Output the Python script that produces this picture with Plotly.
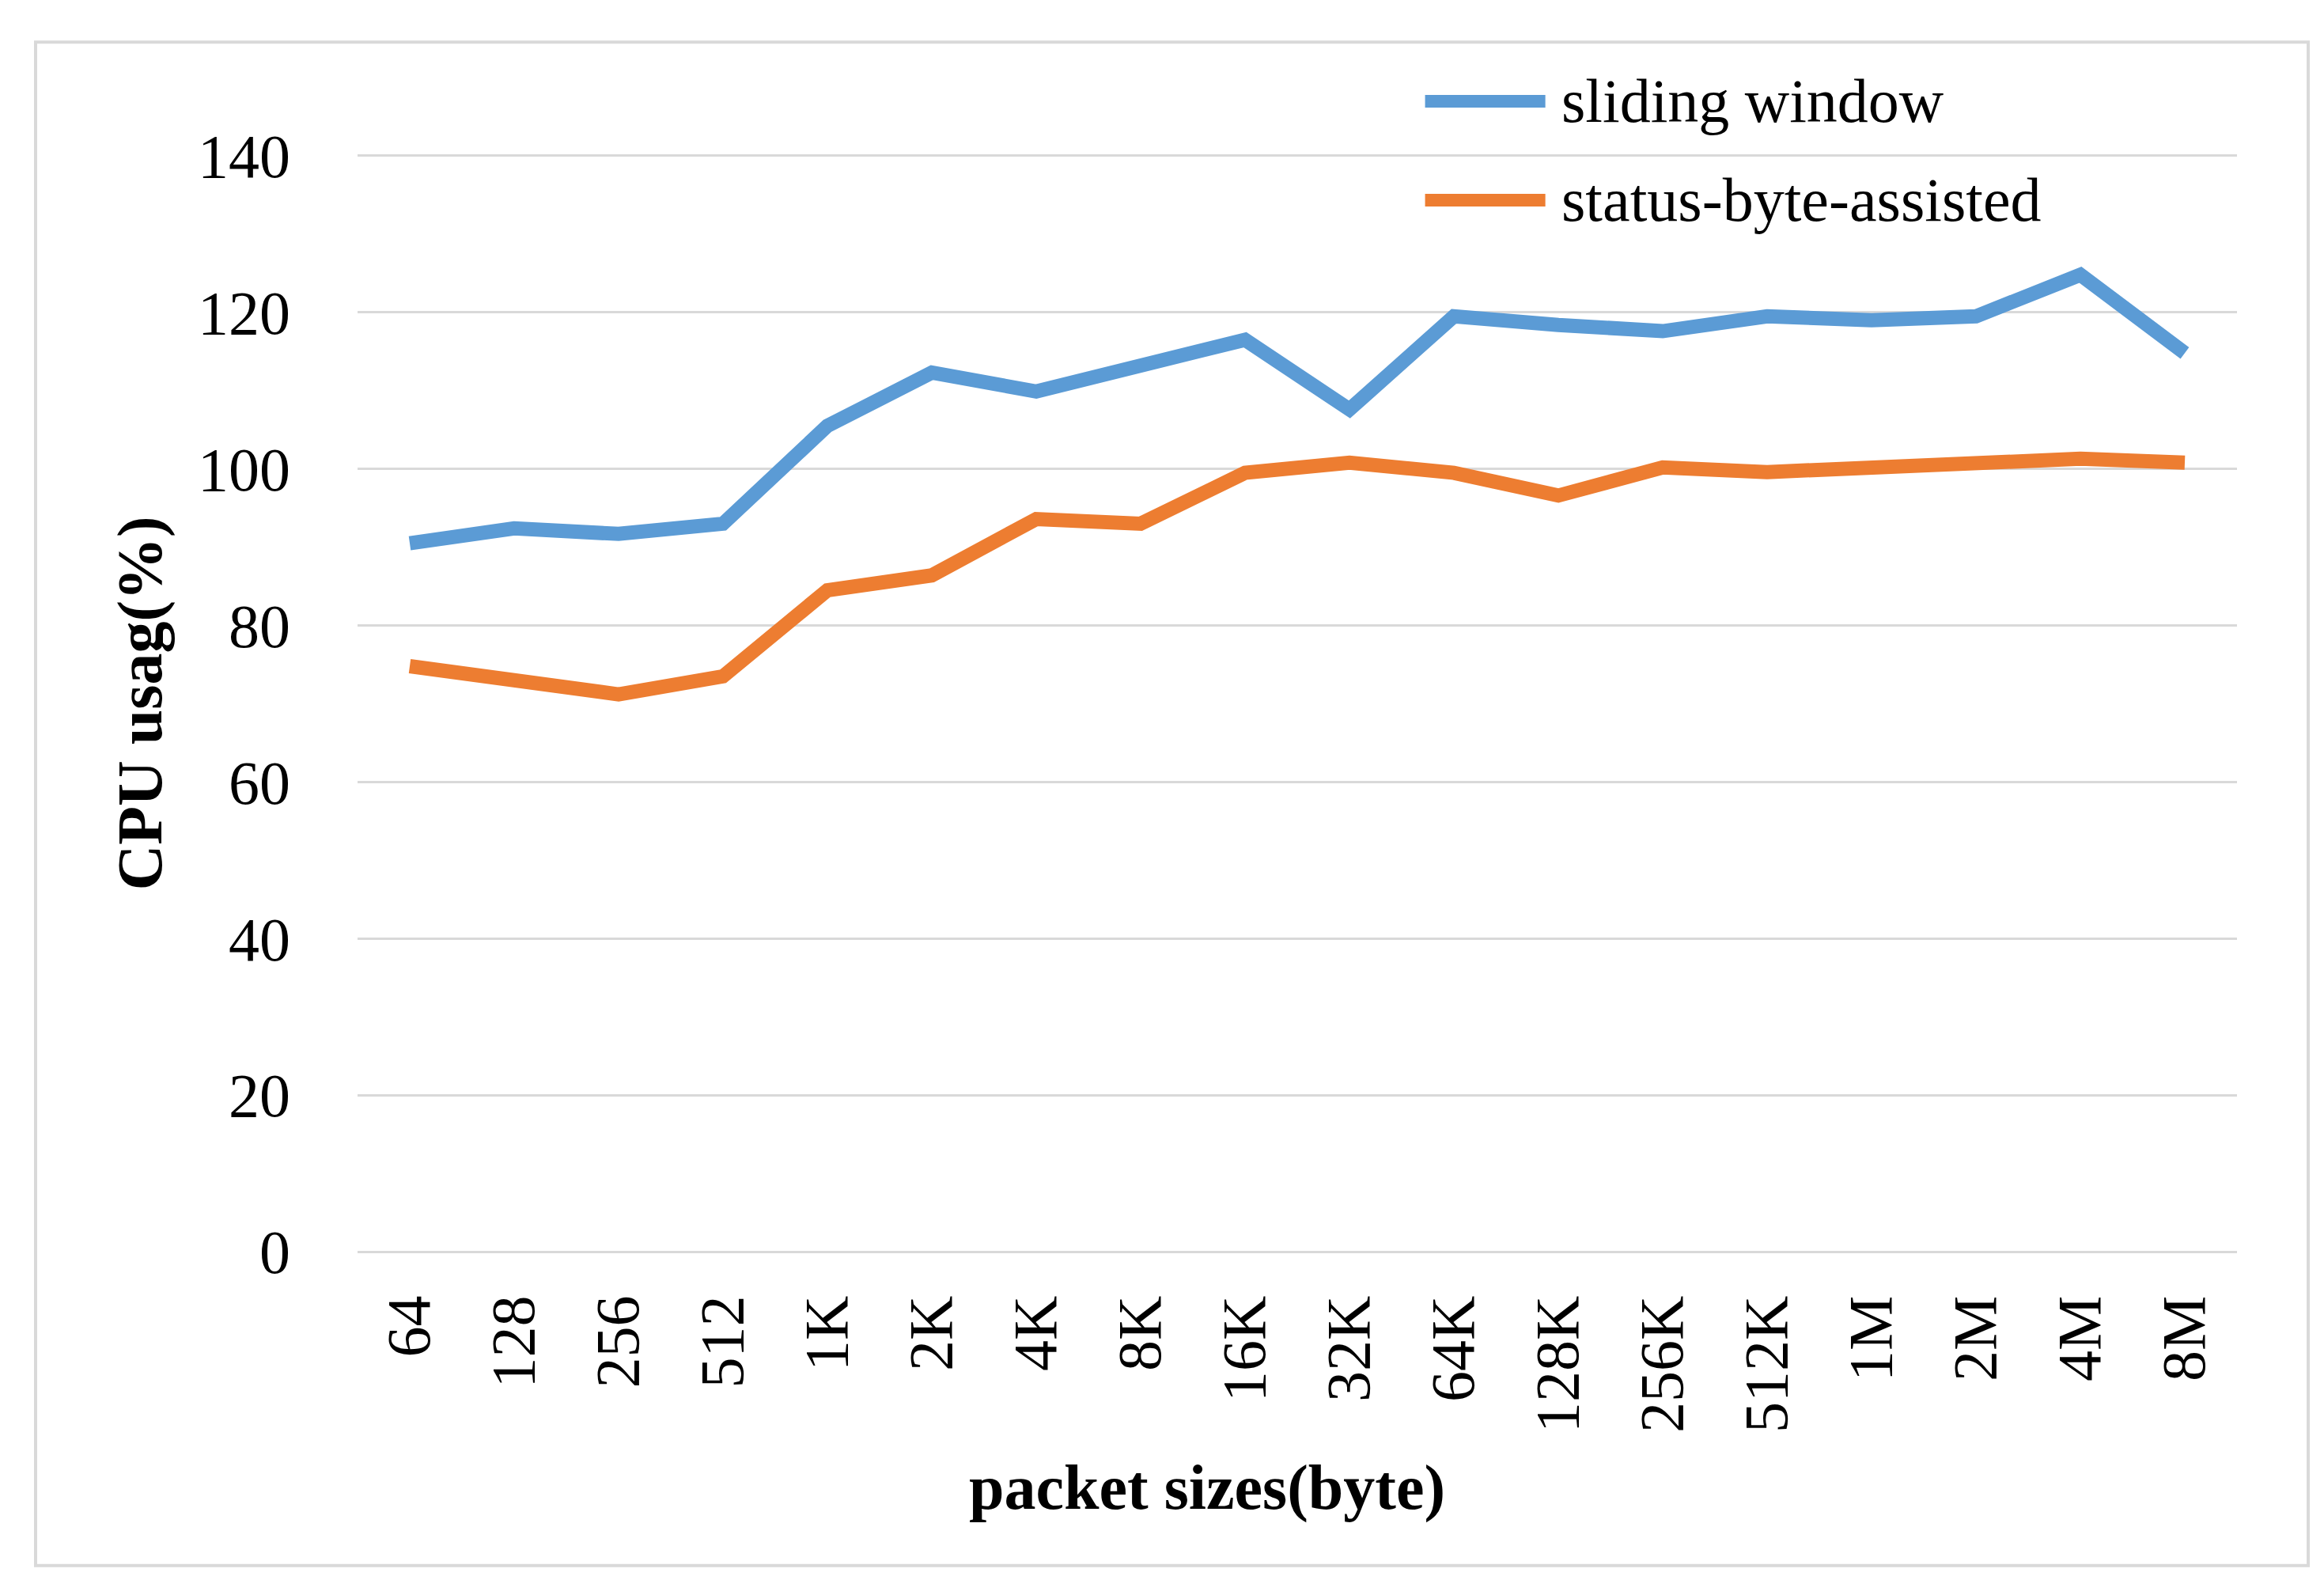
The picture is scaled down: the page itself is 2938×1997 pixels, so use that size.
import plotly.graph_objects as go

categories = ["64", "128", "256", "512", "1K", "2K", "4K", "8K", "16K", "32K",
              "64K", "128K", "256K", "512K", "1M", "2M", "4M", "8M"]
sliding_window = [90.5, 92.4, 91.7, 93.0, 105.5, 112.3, 109.9, 113.3, 116.5, 107.6,
                  119.5, 118.4, 117.6, 119.5, 119.0, 119.5, 124.8, 114.8]
status_byte_assisted = [74.8, 72.9, 71.2, 73.5, 84.5, 86.4, 93.6, 93.0, 99.5, 100.8,
                        99.5, 96.6, 100.2, 99.6, 100.2, 100.8, 101.3, 100.8]
y_ticks = [0, 20, 40, 60, 80, 100, 120, 140]
series_names = ["sliding window", "status-byte-assisted"]
series_colors = ["#5B9BD5", "#ED7D31"]

FONT = "Palatino Linotype, Book Antiqua, Palatino, Liberation Serif, serif"

fig = go.Figure()
for name, vals, col in zip(series_names, [sliding_window, status_byte_assisted], series_colors):
    fig.add_trace(go.Scatter(x=categories, y=vals, mode="lines", name=name,
                             line=dict(color=col, width=18), showlegend=False))

# legend drawn as thick sample lines + text (Plotly caps legend line width)
legend_y = [1.0459, 0.9563]
shapes = [dict(type="rect", xref="paper", yref="paper",
               x0=-0.1713, x1=1.0379, y0=-0.2809, y1=1.0995,
               line=dict(color="#D9D9D9", width=4), layer="below")]
annotations = []
for name, col, ly in zip(series_names, series_colors, legend_y):
    shapes.append(dict(type="line", xref="paper", yref="paper",
                       x0=0.5680, x1=0.6320, y0=ly, y1=ly,
                       line=dict(color=col, width=16)))
    annotations.append(dict(text=name, xref="paper", yref="paper",
                            x=0.6397, y=ly, xanchor="left", yanchor="middle",
                            showarrow=False,
                            font=dict(family=FONT, size=78, color="black")))

annotations += [
    dict(text="<b>packet sizes(byte)</b>", xref="paper", yref="paper",
         x=0.452, y=-0.2105, xanchor="center", yanchor="middle",
         showarrow=False, font=dict(family=FONT, size=80, color="black")),
    dict(text="<b>CPU usag(%)</b>", xref="paper", yref="paper",
         x=-0.1157, y=0.5, xanchor="center", yanchor="middle",
         textangle=-90, showarrow=False,
         font=dict(family=FONT, size=80, color="black")),
]

fig.update_layout(
    width=2938, height=1997,
    paper_bgcolor="white", plot_bgcolor="white",
    margin=dict(l=444, r=118, t=184, b=418),
    font=dict(family=FONT, size=78, color="black"),
    showlegend=False,
    xaxis=dict(type="category", range=[-0.5, 17.5], showgrid=False,
               showline=False, zeroline=False, tickangle=-90,
               ticks="", ticklabelstandoff=34,
               tickfont=dict(family=FONT, size=78, color="black")),
    yaxis=dict(range=[-0.5, 140.5], tickvals=y_ticks, showgrid=True,
               gridcolor="#D9D9D9", gridwidth=3, zeroline=False,
               showline=False, ticks="", ticklabelstandoff=84,
               tickfont=dict(family=FONT, size=78, color="black")),
    shapes=shapes,
    annotations=annotations,
)

fig.write_html("out.html")
